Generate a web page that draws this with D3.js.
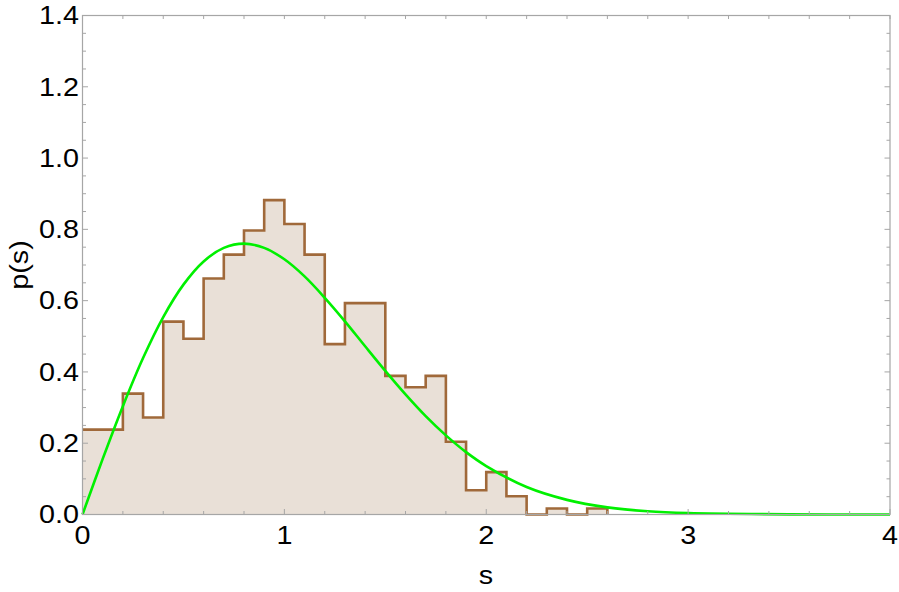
<!DOCTYPE html>
<html><head><meta charset="utf-8">
<script src="https://cdn.jsdelivr.net/npm/d3@7"></script>
<style>body{margin:0;background:#fff}svg{display:block}</style>
</head><body>
<script>
// Histogram bins (left edges, width 0.1) and heights
const binEdges = [0.0,0.1,0.2,0.3,0.4,0.5,0.6,0.7,0.8,0.9,1.0,1.1,1.2,1.3,1.4,1.5,1.6,1.7,1.8,1.9,2.0,2.1,2.2,2.3,2.4,2.5,2.6];
const binHeights = [0.238,0.238,0.339,0.272,0.541,0.493,0.662,0.729,0.797,0.882,0.815,0.729,0.478,0.593,0.593,0.389,0.357,0.389,0.204,0.068,0.119,0.051,0.0,0.017,0.0,0.017];
// Curve sample points
const curveS = [0,0.1,0.2,0.3,0.4,0.5,0.6,0.7,0.8,0.9,1.0,1.1,1.2,1.3,1.4,1.5,1.6,1.7,1.8,1.9,2.0,2.2,2.4,2.6,2.8,3.0,3.5,4.0];
const curveP = [0,0.156,0.304,0.439,0.554,0.645,0.710,0.748,0.760,0.748,0.716,0.668,0.608,0.542,0.472,0.403,0.337,0.276,0.222,0.175,0.136,0.077,0.041,0.020,0.009,0.004,0.0004,0.0];
const xTicks = [0,1,2,3,4];
const yTicks = [0.0,0.2,0.4,0.6,0.8,1.0,1.2,1.4];

const W = 899, H = 592;
const L = 82.5, R = 890, T = 15.5, B = 514.5;
const svg = d3.select("body").append("svg").attr("width", W).attr("height", H);
const x = d3.scaleLinear().domain([0,4]).range([L,R]);
const y = d3.scaleLinear().domain([0,1.4]).range([B,T]);

// histogram step path
const pts = [];
binHeights.forEach((h,i)=>{ pts.push([binEdges[i],h]); pts.push([binEdges[i+1],h]); });
const area = d3.area().x(d=>x(d[0])).y0(y(0)).y1(d=>y(d[1]));
svg.append("path").attr("d", area(pts)).attr("fill","#e9e0d7");
const stepLine = [...pts,[binEdges[binEdges.length-1],0]];
svg.append("path").attr("d", d3.line().x(d=>x(d[0])).y(d=>y(d[1]))(stepLine))
  .attr("fill","none").attr("stroke","#a0693a").attr("stroke-width",2.6).attr("stroke-linejoin","miter");

// curve
const cdata = curveS.map((s,i)=>[s,curveP[i]]);
svg.append("path").attr("d", d3.line().x(d=>x(d[0])).y(d=>y(d[1])).curve(d3.curveCatmullRom)(cdata))
  .attr("fill","none").attr("stroke","#00f000").attr("stroke-width",2.6);

// frame
svg.append("rect").attr("x",L).attr("y",T).attr("width",R-L).attr("height",B-T)
  .attr("fill","none").attr("stroke","#a6a6a6").attr("stroke-width",1.2);

const tickColor = "#a6a6a6";
const g = svg.append("g").attr("stroke",tickColor).attr("stroke-width",1);
d3.range(0,4.0001,0.2).forEach(v=>{
  const major = Math.abs(v-Math.round(v))<1e-6;
  const len = major?5.5:3.5;
  g.append("line").attr("x1",x(v)).attr("x2",x(v)).attr("y1",B).attr("y2",B-len);
  g.append("line").attr("x1",x(v)).attr("x2",x(v)).attr("y1",T).attr("y2",T+3.5);
});
d3.range(0,1.4001,0.05).forEach(v=>{
  const major = Math.abs(v*5-Math.round(v*5))<1e-6;
  const len = major?5.5:3.5;
  g.append("line").attr("x1",L).attr("x2",L+len).attr("y1",y(v)).attr("y2",y(v));
  g.append("line").attr("x1",R).attr("x2",R-len).attr("y1",y(v)).attr("y2",y(v));
});

const font = "'Liberation Sans', Arial, sans-serif";
const FS = 25, SX = 1.15;
svg.selectAll(".xl").data(xTicks).enter().append("text")
  .attr("transform",d=>`translate(${x(d)},544) scale(${SX},1)`).attr("text-anchor","middle")
  .attr("font-family",font).attr("font-size",FS).attr("fill","#000").text(d=>d3.format("d")(d));
svg.selectAll(".yl").data(yTicks).enter().append("text")
  .attr("transform",d=>`translate(79,${y(d)+8.8}) scale(${SX},1)`).attr("text-anchor","end")
  .attr("font-family",font).attr("font-size",FS).attr("fill","#000").text(d=>d3.format(".1f")(d));
svg.append("text").attr("transform",`translate(486,584) scale(${SX},1)`).attr("text-anchor","middle")
  .attr("font-family",font).attr("font-size",FS).text("s");
svg.append("text").attr("transform",`translate(28,265) rotate(-90) scale(${SX},1)`).attr("text-anchor","middle")
  .attr("font-family",font).attr("font-size",FS).text("p(s)");
</script>
</body></html>
